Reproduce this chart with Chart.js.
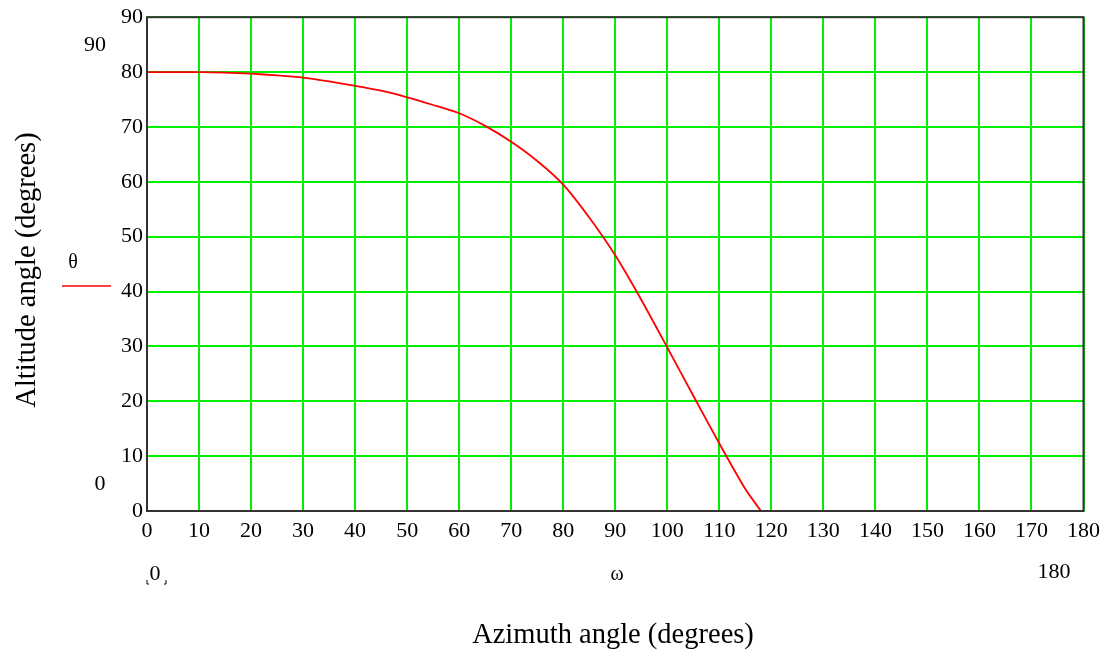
<!DOCTYPE html>
<html><head><meta charset="utf-8">
<script src="https://cdn.jsdelivr.net/npm/chart.js@4.4.1/dist/chart.umd.min.js"></script>
<style>html,body{margin:0;padding:0;background:#fff;}#wrap{width:1107px;height:653px;position:relative;}</style>
</head><body><div id="wrap"><canvas id="c" width="1107" height="653"></canvas></div>
<script>
// Data
const azimuth  = [0, 5, 10, 15, 20, 25, 30, 35, 40, 45, 50, 55, 60, 65, 70, 75, 80, 85, 90, 95, 100, 105, 110, 115, 118];
const altitude = [80, 80, 80, 79.9, 79.7, 79.4, 79, 78.3, 77.5, 76.6, 75.4, 74, 72.5, 70.2, 67.3, 63.8, 59.5, 53.5, 46.6, 38.5, 29.8, 21, 12.3, 4, 0];
const xTicks = [0,10,20,30,40,50,60,70,80,90,100,110,120,130,140,150,160,170,180];
const yTicks = [0,10,20,30,40,50,60,70,80,90];
const xTitle = "Azimuth angle (degrees)";
const yTitle = "Altitude angle (degrees)";

const serif = "'Liberation Serif', 'Times New Roman', serif";

const extras = {
  id: 'extras',
  afterDraw(chart) {
    const ctx = chart.ctx, a = chart.chartArea;
    ctx.save();
    // frame
    ctx.strokeStyle = '#333';
    ctx.lineWidth = 2;
    ctx.strokeRect(a.left, a.top, a.right - a.left, a.bottom - a.top);
    ctx.fillStyle = '#000';
    ctx.textAlign = 'center';
    ctx.textBaseline = 'middle';
    // titles
    ctx.font = "28.5px " + serif;
    ctx.fillText(xTitle, 613, 636);
    ctx.save();
    ctx.translate(28, 270);
    ctx.rotate(-Math.PI / 2);
    ctx.fillText(yTitle, 0, 0);
    ctx.restore();
    // Mathcad range labels
    ctx.font = "22px " + serif;
    ctx.fillText("90", 95, 45);
    ctx.fillText("0", 100, 484);
    ctx.fillText("0", 155, 574);
    ctx.fillText("180", 1054, 572);
    ctx.font = "20px " + serif;
    ctx.fillText("ω", 617, 575);
    ctx.fillText("θ", 73, 263);
    // placeholder corner marks around the 0
    ctx.strokeStyle = '#000';
    ctx.lineWidth = 1;
    ctx.beginPath();
    ctx.moveTo(147, 580); ctx.lineTo(147, 584); ctx.lineTo(149, 584);
    ctx.moveTo(166, 580); ctx.lineTo(166, 584); ctx.lineTo(164, 584);
    ctx.stroke();
    // legend line sample
    ctx.strokeStyle = '#ff0000';
    ctx.lineWidth = 1.5;
    ctx.beginPath();
    ctx.moveTo(62, 286); ctx.lineTo(111, 286);
    ctx.stroke();
    ctx.restore();
  }
};

new Chart(document.getElementById('c'), {
  type: 'scatter',
  data: {
    datasets: [{
      data: azimuth.map((x, i) => ({x: x, y: altitude[i]})),
      showLine: true,
      borderColor: '#ff0000',
      borderWidth: 1.8,
      pointRadius: 0,
      tension: 0.2,
      fill: false
    }]
  },
  options: {
    responsive: false,
    animation: false,
    layout: { padding: { left: 0, right: 22, top: 14, bottom: 0 } },
    plugins: { legend: { display: false }, tooltip: { enabled: false } },
    scales: {
      x: {
        type: 'linear', min: 0, max: 180,
        afterBuildTicks(s) { s.ticks = xTicks.map(v => ({value: v})); },
        afterFit(s) { s.height = 142; },
        grid: { color: '#00f000', lineWidth: 2, drawTicks: false },
        border: { display: false },
        ticks: { color: '#000', font: { family: serif, size: 22 }, padding: 7, maxRotation: 0, autoSkip: false }
      },
      y: {
        type: 'linear', min: 0, max: 90,
        afterBuildTicks(s) { s.ticks = yTicks.map(v => ({value: v})); },
        afterFit(s) { s.width = 147; },
        grid: { color: '#00f000', lineWidth: 2, drawTicks: false },
        border: { display: false },
        ticks: { color: '#000', font: { family: serif, size: 22 }, padding: 4, autoSkip: false }
      }
    }
  },
  plugins: [extras]
});
</script>
</body></html>
